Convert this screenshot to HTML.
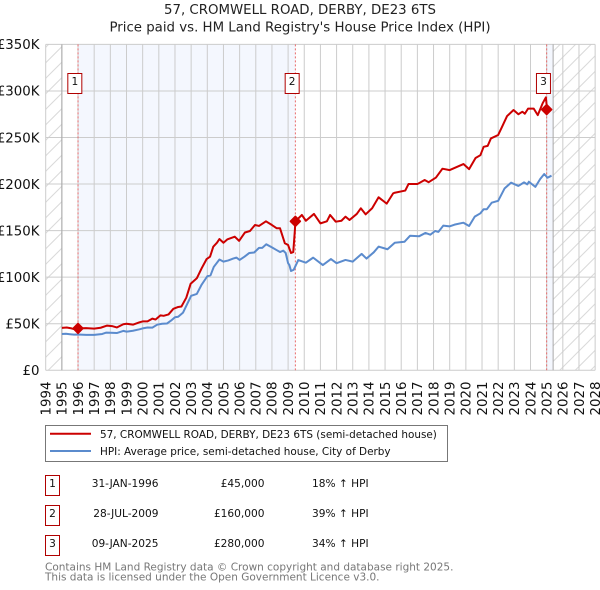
<!DOCTYPE html>
<html lang="en">
<head>
<meta charset="utf-8">
<title>57, CROMWELL ROAD, DERBY, DE23 6TS</title>
<style>
html,body{margin:0;padding:0;background:#fff;width:600px;height:590px;overflow:hidden}
svg{display:block;font-family:"DejaVu Sans","Liberation Sans",sans-serif}
</style>
</head>
<body>
<svg id="page" xmlns="http://www.w3.org/2000/svg" width="600" height="590" viewBox="0 0 600 590">
<defs>
<pattern id="hatch" patternUnits="userSpaceOnUse" width="15.5" height="15.5">
<path d="M-2,17.5 L17.5,-2 M-2,2 L2,-2 M13.5,17.5 L17.5,13.5" stroke="#d9d9d9" stroke-width="1" fill="none"/>
</pattern>
</defs>
<text x="300" y="14" text-anchor="middle" font-size="13.33" fill="#222">57, CROMWELL ROAD, DERBY, DE23 6TS</text>
<text x="300" y="31.5" text-anchor="middle" font-size="13.33" fill="#222">Price paid vs. HM Land Registry's House Price Index (HPI)</text>
<g id="plot"></g>

<g>
<rect x="45.5" y="425.5" width="402" height="36" fill="#fff" stroke="#777" stroke-width="1"/>
<line x1="50" y1="433.7" x2="91" y2="433.7" stroke="#cc0000" stroke-width="2"/>
<text x="100" y="438" font-size="10.45" fill="#111">57, CROMWELL ROAD, DERBY, DE23 6TS (semi-detached house)</text>
<line x1="50" y1="451" x2="91" y2="451" stroke="#5b8bcd" stroke-width="2"/>
<text x="100" y="455" font-size="10.45" fill="#111">HPI: Average price, semi-detached house, City of Derby</text>
</g>

<g font-size="10.6" fill="#111">
<g>
<rect x="45.5" y="475.5" width="14" height="20" fill="#fff" stroke="#b00000"/>
<text x="52.5" y="487" text-anchor="middle">1</text>
<text x="158.5" y="487" text-anchor="end">31-JAN-1996</text>
<text x="264.5" y="487" text-anchor="end">£45,000</text>
<text x="312" y="487">18% ↑ HPI</text>
</g>
<g>
<rect x="45.5" y="505.5" width="14" height="20" fill="#fff" stroke="#b00000"/>
<text x="52.5" y="517" text-anchor="middle">2</text>
<text x="158.5" y="517" text-anchor="end">28-JUL-2009</text>
<text x="264.5" y="517" text-anchor="end">£160,000</text>
<text x="312" y="517">39% ↑ HPI</text>
</g>
<g>
<rect x="45.5" y="535.5" width="14" height="20" fill="#fff" stroke="#b00000"/>
<text x="52.5" y="547" text-anchor="middle">3</text>
<text x="158.5" y="547" text-anchor="end">09-JAN-2025</text>
<text x="264.5" y="547" text-anchor="end">£280,000</text>
<text x="312" y="547">34% ↑ HPI</text>
</g>
</g>
<text x="45" y="570.5" font-size="10.5" fill="#777">Contains HM Land Registry data © Crown copyright and database right 2025.</text>
<text x="45" y="580.5" font-size="10.5" fill="#777">This data is licensed under the Open Government Licence v3.0.</text>
</svg>
<script>
const yearTicks = [1994,1995,1996,1997,1998,1999,2000,2001,2002,2003,2004,2005,2006,2007,2008,2009,2010,2011,2012,2013,2014,2015,2016,2017,2018,2019,2020,2021,2022,2023,2024,2025,2026,2027,2028];
const valueTicks = [0,50,100,150,200,250,300,350];
const valueTickLabels = ["£0","£50K","£100K","£150K","£200K","£250K","£300K","£350K"];

const priceYears = [1995,1995.3,1995.6,1995.8,1996,1996.5,1997,1997.4,1997.8,1998.1,1998.4,1998.8,1999,1999.4,1999.8,2000,2000.3,2000.6,2000.8,2001.1,2001.3,2001.6,2001.9,2002.2,2002.4,2002.7,2002.97,2003.35,2003.65,2003.96,2004.17,2004.37,2004.6,2004.75,2005,2005.25,2005.7,2005.97,2006.33,2006.64,2006.95,2007.2,2007.63,2008,2008.3,2008.5,2008.8,2009,2009.18,2009.32,2009.42,2009.45,2009.85,2010.1,2010.6,2011,2011.4,2011.6,2011.95,2012.3,2012.55,2012.8,2013.25,2013.5,2013.8,2014.2,2014.6,2015.1,2015.5,2015.6,2016.25,2016.45,2017,2017.45,2017.7,2018.15,2018.55,2019,2019.85,2020.2,2020.6,2020.9,2021.1,2021.35,2021.55,2022,2022.2,2022.55,2022.95,2023.25,2023.5,2023.65,2023.85,2024.2,2024.45,2024.75,2024.95,2025.03,2025.3];
const priceValues = [45.5,46,45,44,45,45.3,44.8,45.7,48,47.5,46,49.5,50,49,51.5,52.5,52.5,55.5,54.5,59,58.5,60,66,68,68.5,78,93,98.8,109.5,119.5,122,132.8,137,141,137,140.7,143.5,139,148,149.6,156,155,160,156,152.5,152.5,136.4,134.5,126,127,150.7,160,166.8,160.6,167.9,157.8,160,166.8,159.6,160.6,165,161.4,167.9,174,167.5,174,185.8,179,190,190.7,193,200,200,204.4,202,207,216.5,215,221.5,216,228,231,240,241,249,252.7,260,273,279.5,275,277.7,275.5,281,281,274,286.7,293,280,280];

const hpiYears = [1995,1995.25,1995.5,1995.75,1996,1996.5,1997,1997.5,1997.75,1998,1998.4,1998.8,1999,1999.4,1999.8,2000,2000.3,2000.6,2000.9,2001.2,2001.5,2001.8,2002,2002.2,2002.5,2002.75,2003,2003.35,2003.65,2004,2004.2,2004.4,2004.75,2005,2005.3,2005.6,2005.8,2006,2006.3,2006.6,2006.9,2007.2,2007.4,2007.65,2008,2008.3,2008.5,2008.7,2008.85,2009,2009.08,2009.18,2009.35,2009.63,2010.1,2010.55,2011.15,2011.65,2012,2012.55,2013,2013.55,2013.85,2014.3,2014.6,2015.15,2015.6,2016.2,2016.55,2017.1,2017.5,2017.8,2018.1,2018.3,2018.6,2019,2019.3,2019.85,2020.2,2020.55,2020.9,2021.1,2021.3,2021.6,2022,2022.4,2022.8,2023.25,2023.6,2023.8,2023.9,2024.3,2024.6,2024.85,2025.05,2025.3];
const hpiValues = [39,39.2,38.7,38.3,38.5,38,38,39,40.5,40.3,40,42.3,41.5,42.5,44,45,46,45.8,49,50,50.2,54,57,57.5,62,71,80,82,92,101,102,111,119,116.7,118,120,121,118.5,122,126,126.5,131.5,131.5,135.3,132,129,127,128.5,126,115,113,106.6,108,118.4,115.6,121,113,119.5,115,118.5,116.7,125,120,126.7,132.8,130,137,138,144.5,143.9,147.5,145.6,149.6,148.6,155.3,154.6,156.4,158.5,155,165,168.6,173,173,180,182,195.4,201.5,198,201.8,199.7,202.5,197,205.4,210.8,206.8,209];

const saleYears = [1996,2009.45,2025];
const saleValues = [45,160,280];
const saleLabels = ["1","2","3"];

const NS = "http://www.w3.org/2000/svg";
const plot = document.getElementById("plot");
const xLeft = 45.7, xPerYear = 16.16, yZero = 370.3, yPerK = 0.9312;
const startYear = 1994, dataStart = 1995, dataEnd = 2025.4;
function xAt(year){ return xLeft + (year - startYear) * xPerYear; }
function yAt(value){ return yZero - value * yPerK; }
function make(tag, attrs, parent){
  const el = document.createElementNS(NS, tag);
  for (const k in attrs) el.setAttribute(k, attrs[k]);
  (parent || plot).appendChild(el);
  return el;
}
const top350 = yAt(350), plotRight = xAt(2028);

let el = make("rect", {x:xLeft, y:top350, width:xAt(dataStart)-xLeft, height:yZero-top350, fill:"url(#hatch)"});


el = make("rect", {x:xAt(dataEnd), y:top350, width:plotRight-xAt(dataEnd), height:yZero-top350, fill:"url(#hatch)"});


el = make("rect", {x:xAt(saleYears[0]), y:top350, width:xAt(saleYears[1])-xAt(saleYears[0]), height:yZero-top350, fill:"#f4f7fe"});


el = make("rect", {x:xAt(saleYears[2]), y:top350, width:xAt(dataEnd)-xAt(saleYears[2]), height:yZero-top350, fill:"#f4f7fe"});



yearTicks.forEach(function(yr){
  const x = xAt(yr);
  const line = make("line", {x1:x, x2:x, y1:top350, y2:yZero, stroke:"#cccccc", "stroke-width":1});
  
  
  const t = make("text", {transform:"translate("+(x+4.8)+",415.5) rotate(-90)", "font-size":13.33, fill:"#111"});
  t.textContent = yr;
  
  
});
valueTicks.forEach(function(v, i){
  const y = yAt(v);
  const line = make("line", {x1:xLeft, x2:plotRight, y1:y, y2:y, stroke:"#cccccc", "stroke-width":1});
  
  
  const t = make("text", {x:39.5, y:y+4.8, "text-anchor":"end", "font-size":13.33, fill:"#111"});
  t.textContent = valueTickLabels[i];
  
  
});
[dataStart, dataEnd].forEach(function(yr){
  const line = make("line", {x1:xAt(yr), x2:xAt(yr), y1:top350, y2:yZero, stroke:"#a8a8a8", "stroke-width":1});
  
  
});
saleYears.forEach(function(yr){
  const line = make("line", {x1:xAt(yr), x2:xAt(yr), y1:top350, y2:yZero, stroke:"#e86a6a", "stroke-width":1, "stroke-dasharray":"2 2"});
  
  
});
function seriesPath(years, values){
  return years.map(function(yr, i){ return (i ? "L" : "M") + xAt(yr).toFixed(2) + "," + yAt(values[i]).toFixed(2); }).join(" ");
}
el = make("path", {d:seriesPath(hpiYears, hpiValues), fill:"none", stroke:"#5b8bcd", "stroke-width":2, "stroke-linejoin":"round"});


el = make("path", {d:seriesPath(priceYears, priceValues), fill:"none", stroke:"#cc0000", "stroke-width":2, "stroke-linejoin":"round"});



saleYears.forEach(function(yr, i){
  const x = xAt(yr), y = yAt(saleValues[i]);
  const m = make("path", {d:"M"+(x-5)+","+y+" L"+x+","+(y-5)+" L"+(x+5)+","+y+" L"+x+","+(y+5)+" Z", fill:"#cc0000", stroke:"#cc0000", "stroke-width":1.5, "stroke-linejoin":"round"});
  
  
  const box = make("rect", {x:x-10.2, y:73.5, width:14, height:20, fill:"#fff", stroke:"#b00000", "stroke-width":1});
  
  
  const t = make("text", {x:x-3.2, y:85, "text-anchor":"middle", "font-size":10.6, fill:"#111"});
  t.textContent = saleLabels[i];
  
  
});
</script>
</body>
</html>
